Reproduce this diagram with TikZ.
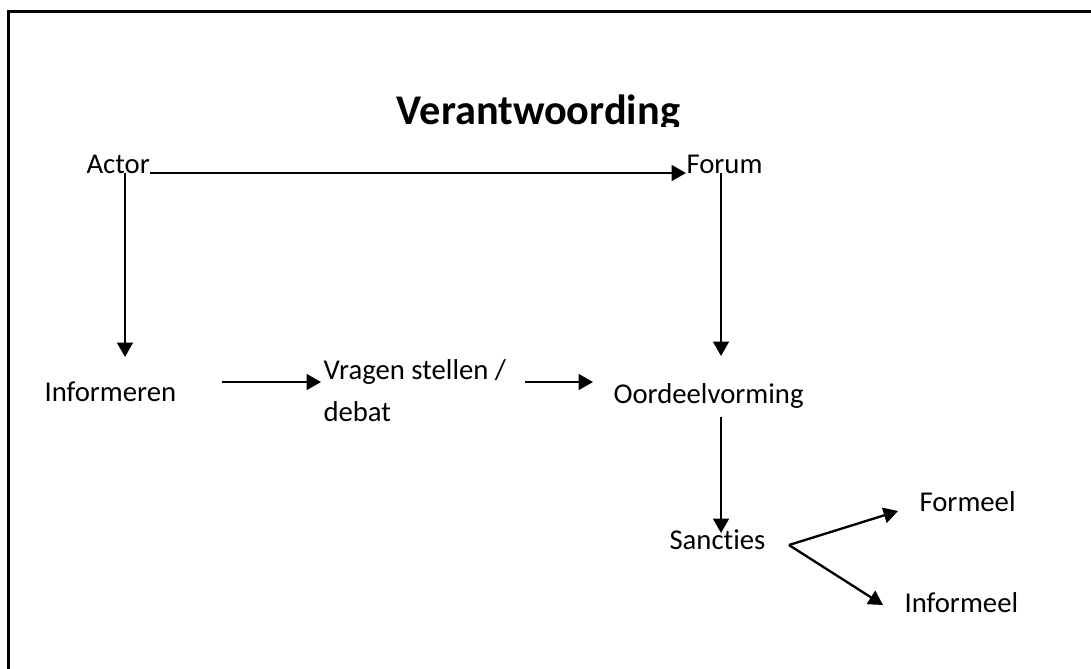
\documentclass[tikz,border=0pt]{standalone}
\usepackage{fontspec}
\setmainfont{Carlito}[RawFeature={-liga;-clig;-calt;-dlig}]
\usetikzlibrary{arrows.meta}

\begin{document}
\begin{tikzpicture}[x=0.3831pt, y=-0.3831pt,
    lbl/.style={anchor=base west, inner sep=0pt, font=\fontsize{11}{16}\selectfont},
    arr/.style={line width=0.9pt, -{Triangle[length=5.5pt, width=6pt]}}]
            \useasboundingbox (0,0) rectangle (1091,668);

            % Frame (runs off the page on the right and bottom)
            \draw[line width=1pt] (8.5,11.5) rectangle (1120,700);

            % Title, cut off just under the baseline
            \begin{scope}
                \clip (0,0) rectangle (1091,126);
                \node[anchor=base, inner sep=0pt, font=\fontsize{16.2}{19}\selectfont\bfseries] (title) at (538.5,124.5) {Verantwoording};
            \end{scope}

            % Labels
            \node[lbl] (actor) at (86,173) {Actor};
            \node[lbl] (forum) at (686,173) {Forum};
            \node[lbl] (informeren) at (44,401) {Informeren};
            \node[lbl, align=left] (vragen) at (323,421) {Vragen stellen /\\debat};
            \node[lbl] (oordeel) at (613,403) {Oordeelvorming};
            \node[lbl] (sancties) at (669,549) {Sancties};
            \node[lbl] (formeel) at (919,511) {Formeel};
            \node[lbl] (informeel) at (904,612) {Informeel};

            % Actor and Forum
            \draw[arr] (actor.base east) -- (forum.base west);
            \draw[arr] ([shift={(39,0)}]actor.base west) -- ([shift={(81,-44)}]informeren.base west);
            \draw[arr] ([shift={(35,0)}]forum.base west) -- ([shift={(108,-47)}]oordeel.base west);

            % Middle row
            \draw[arr] ([shift={(45,-19)}]informeren.base east) -- ([shift={(-2,-39)}]vragen.base west);
            \draw[arr] ([shift={(18,-39)}]vragen.base east) -- ([shift={(-20,-21)}]oordeel.base west);

            % Sancties
            \draw[arr] ([shift={(108,14)}]oordeel.base west) -- ([shift={(52,-16)}]sancties.base west);
            \draw[arr] ([shift={(23,-4)}]sancties.base east) -- ([shift={(-21,0)}]formeel.base west);
            \draw[arr] ([shift={(23,-4)}]sancties.base east) -- ([shift={(-21,-7)}]informeel.base west);

        \end{tikzpicture}
\end{document}
